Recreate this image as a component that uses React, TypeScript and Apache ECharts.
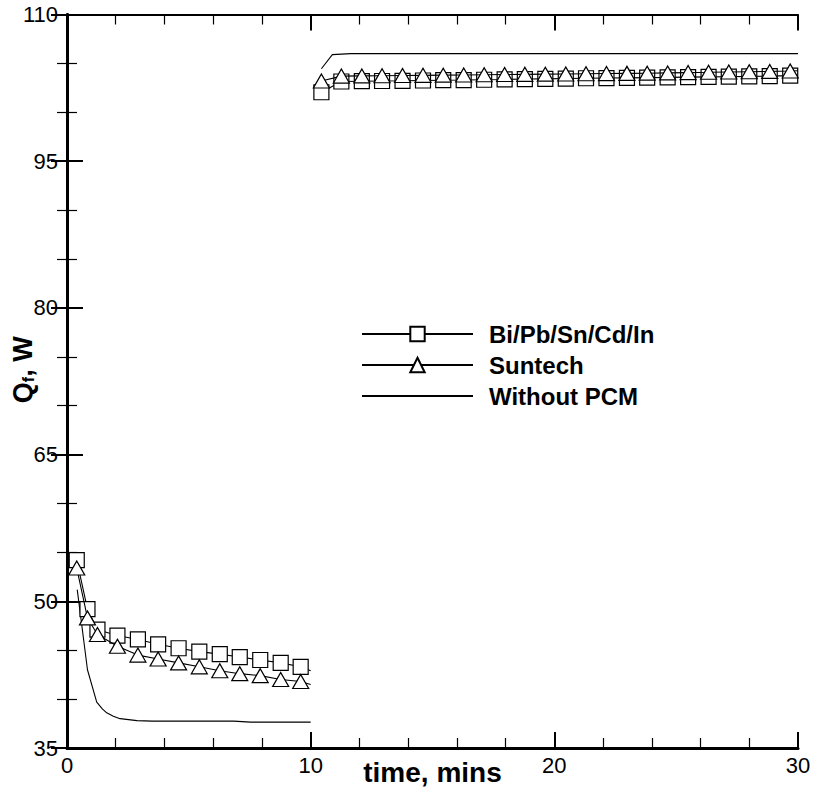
import React, { useEffect, useRef } from 'react';
import * as echarts from 'echarts';

// ---- data ----
const timeLow = [0.40, 0.84, 1.25, 2.07, 2.91, 3.74, 4.58, 5.43, 6.27, 7.09, 7.93, 8.77, 9.59, 10.0];
const timeHigh = [10.44, 11.26, 12.10, 12.93, 13.77, 14.61, 15.44, 16.28, 17.12, 17.96, 18.79, 19.63, 20.47, 21.30, 22.14, 22.98, 23.81, 24.65, 25.49, 26.33, 27.16, 28.00, 28.84, 29.68, 30.0];

const biLow = [54.2, 49.2, 47.1, 46.5, 46.1, 45.6, 45.2, 44.85, 44.6, 44.3, 44.0, 43.7, 43.3, 42.9];
const biHigh = [102.05, 103.15, 103.18, 103.2, 103.22, 103.25, 103.28, 103.3, 103.33, 103.36, 103.4, 103.42, 103.45, 103.48, 103.5, 103.52, 103.55, 103.57, 103.6, 103.62, 103.64, 103.67, 103.7, 103.75, 103.78];

const sunLow = [53.4, 48.3, 46.6, 45.4, 44.5, 44.1, 43.7, 43.3, 42.9, 42.6, 42.4, 42.0, 41.8, 41.5];
const sunHigh = [103.2, 103.7, 103.72, 103.74, 103.76, 103.78, 103.8, 103.82, 103.84, 103.86, 103.88, 103.9, 103.92, 103.94, 103.96, 103.98, 104.0, 104.03, 104.06, 104.09, 104.12, 104.15, 104.18, 104.22, 104.25];

const noPcmTimeLow = [0.42, 0.84, 1.22, 1.45, 1.63, 1.9, 2.18, 2.87, 3.5, 6.84, 7.53, 10.0];
const noPcmLow = [51.2, 43.0, 39.7, 39.0, 38.6, 38.25, 38.0, 37.8, 37.75, 37.75, 37.65, 37.65];
const noPcmTimeHigh = [10.44, 10.89, 11.65, 30.0];
const noPcmHigh = [104.45, 105.9, 106.0, 106.0];

const seriesNames = ['Bi/Pb/Sn/Cd/In', 'Suntech', 'Without PCM'];
const xTicks = { min: 0, max: 30, interval: 10 };
const yTicks = { min: 35, max: 110, interval: 15 };

const FONT = '"Liberation Sans", Arial, Helvetica, sans-serif';

function segment(times: number[], values: number[], markers: boolean) {
  // last point of each segment carries the line to the end without a marker
  return times.map((t, i) =>
    markers && i < times.length - 1
      ? { value: [t, values[i]] }
      : { value: [t, values[i]], symbol: 'none' }
  );
}

function buildData(tl: number[], vl: number[], th: number[], vh: number[], markers: boolean) {
  return [...segment(tl, vl, markers), { value: [10.2, '-'] }, ...segment(th, vh, markers)];
}

export default function App() {
  const ref = useRef<HTMLDivElement>(null);
  useEffect(() => {
    if (!ref.current) return;
    const chart = echarts.init(ref.current, null, { renderer: 'svg' });
    const axisLine = (w: number) => ({ show: true, lineStyle: { color: '#000', width: w } });
    const tick = { show: true, inside: true, length: 16, lineStyle: { color: '#000', width: 2 } };
    const minor = (n: number) => ({ show: true, splitNumber: n, length: 10, lineStyle: { color: '#000', width: 1.2 } });
    const markerStyle = { color: '#fff', borderColor: '#000', borderWidth: 1.2 };
    chart.setOption({
      animation: false,
      backgroundColor: '#fff',
      grid: { left: 67, right: 19, top: 14.5, bottom: 48, containLabel: false, outerBoundsMode: 'none' },
      legend: {
        orient: 'vertical',
        left: 356,
        top: 317,
        itemWidth: 111,
        itemHeight: 18,
        itemGap: 7,
        data: [
          { name: seriesNames[0] },
          { name: seriesNames[1] },
          { name: seriesNames[2], itemStyle: { color: 'rgba(0,0,0,0)', borderColor: 'rgba(0,0,0,0)', borderWidth: 0 } },
        ],
        textStyle: { fontFamily: FONT, fontSize: 24, fontWeight: 'bold', color: '#000', lineHeight: 24, padding: [0, 0, 0, 11] },
      },
      xAxis: [
        {
          type: 'value', ...xTicks, position: 'bottom',
          axisLine: axisLine(3), axisTick: tick, minorTick: minor(5),
          splitLine: { show: false },
          axisLabel: { fontFamily: FONT, fontSize: 22, color: '#000', margin: 6 },
          name: 'time, mins', nameLocation: 'middle', nameGap: 10, nameMoveOverlap: false,
          nameTextStyle: { fontFamily: FONT, fontSize: 28, fontWeight: 'bold', color: '#000' },
        },
        {
          type: 'value', ...xTicks, position: 'top',
          axisLine: axisLine(2), axisTick: tick, minorTick: minor(5),
          splitLine: { show: false }, axisLabel: { show: false },
        },
      ],
      yAxis: [
        {
          type: 'value', ...yTicks, position: 'left',
          axisLine: axisLine(3), axisTick: tick, minorTick: minor(3),
          splitLine: { show: false },
          axisLabel: { fontFamily: FONT, fontSize: 22, color: '#000', margin: 9 },
          name: '{a|Q}{b|f}{a|, W}', nameLocation: 'middle', nameGap: 31, nameRotate: 90, nameMoveOverlap: false,
          nameTextStyle: {
            fontFamily: FONT, color: '#000', padding: [0, 0, 0, 23],
            rich: {
              a: { fontFamily: FONT, fontSize: 27, fontWeight: 'bold', color: '#000' },
              b: { fontFamily: FONT, fontSize: 16, fontWeight: 'bold', color: '#000', verticalAlign: 'bottom', padding: [10, 0, 0, 0] },
            },
          },
        },
        {
          type: 'value', ...yTicks, position: 'right',
          axisLine: axisLine(3), axisTick: tick, minorTick: minor(3),
          splitLine: { show: false }, axisLabel: { show: false },
        },
      ],
      series: [
        {
          name: seriesNames[0], type: 'line', xAxisIndex: 0, yAxisIndex: 0,
          data: buildData(timeLow, biLow, timeHigh, biHigh, true),
          symbol: 'rect', symbolSize: 15, showAllSymbol: true,
          lineStyle: { color: '#000', width: 1.1 }, itemStyle: markerStyle,
          connectNulls: false, z: 3,
        },
        {
          name: seriesNames[1], type: 'line', xAxisIndex: 0, yAxisIndex: 0,
          data: buildData(timeLow, sunLow, timeHigh, sunHigh, true),
          symbol: 'triangle', symbolSize: [16, 14], showAllSymbol: true,
          lineStyle: { color: '#000', width: 1.1 }, itemStyle: markerStyle,
          connectNulls: false, z: 4,
        },
        {
          name: seriesNames[2], type: 'line', xAxisIndex: 0, yAxisIndex: 0,
          data: buildData(noPcmTimeLow, noPcmLow, noPcmTimeHigh, noPcmHigh, false),
          symbol: 'none', showSymbol: false,
          lineStyle: { color: '#000', width: 1.1 }, itemStyle: { color: '#000' },
          connectNulls: false, z: 2,
        },
      ],
    });
    return () => chart.dispose();
  }, []);
  return <div ref={ref} style={{ position: 'absolute', left: 0, top: 0, width: 817, height: 796 }} />;
}
